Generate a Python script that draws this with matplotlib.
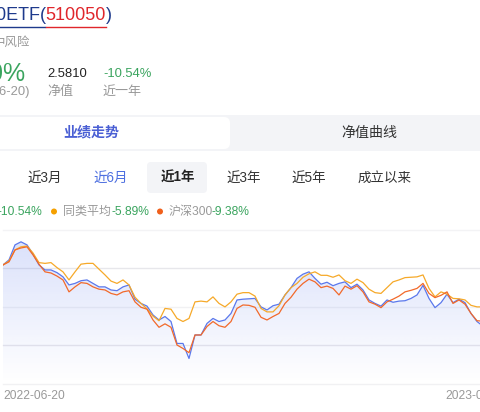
import numpy as np
import matplotlib
matplotlib.use('Agg')
import matplotlib.pyplot as plt
from matplotlib.patches import FancyBboxPatch, Rectangle, Circle
from matplotlib.lines import Line2D
from matplotlib.transforms import IdentityTransform, blended_transform_factory

plt.rcParams['font.family'] = ['Liberation Sans', 'Noto Sans CJK SC', 'DejaVu Sans']

# ---------------- data (cumulative return, %) ----------------
fund = [0.8, 2.1, 6.0, 6.8, 6.0, 3.6, 0.8, -0.5, -0.5, -1.2, -2.3, -4.4, -4.0, -3.3, -3.1,
        -4.0, -4.9, -4.9, -5.7, -5.9, -4.9, -4.4, -8.1, -9.2, -9.9, -12.2, -13.5, -12.6, -13.9,
        -19.6, -19.6, -23.5, -17.4, -17.4, -14.4, -13.1, -13.9, -13.5, -11.8, -8.3, -8.1, -8.0,
        -7.9, -10.1, -10.9, -9.8, -9.4, -7.0, -5.1, -2.7, -1.6, -1.0, -2.7, -4.2, -3.7, -4.6,
        -4.0, -3.6, -5.1, -4.2, -5.7, -8.3, -9.2, -9.9, -8.3, -8.9, -8.6, -8.5, -7.9, -7.0,
        -4.5, -7.9, -10.3, -9.0, -6.8, -9.0, -8.1, -9.0, -11.8, -13.9, -15.1, -14.0, -13.0,
        -11.4, -10.54]
peer_avg = [0.8, 1.8, 4.7, 5.5, 5.7, 3.9, 1.4, 1.2, 1.4, 0.1, -1.0, -3.1, -1.0, 1.0, 1.2,
            1.2, -0.3, -1.8, -3.4, -4.0, -3.1, -4.4, -7.6, -9.2, -10.6, -12.5, -13.7, -10.5,
            -10.7, -13.1, -13.9, -13.1, -8.8, -8.6, -8.8, -7.5, -9.2, -10.1, -8.8, -6.8, -6.4,
            -6.4, -7.3, -10.5, -11.4, -11.4, -9.8, -7.0, -5.1, -4.0, -2.4, -1.5, -1.0, -1.9,
            -1.9, -2.4, -1.8, -3.3, -4.0, -2.9, -3.8, -5.5, -6.4, -6.6, -5.1, -3.6, -3.1, -2.5,
            -2.4, -2.3, -1.8, -5.3, -7.5, -6.2, -6.8, -7.9, -8.0, -8.3, -9.7, -10.1, -10.1,
            -9.1, -8.1, -7.0, -5.89]
hs300 = [0.8, 1.6, 4.7, 5.2, 5.5, 3.4, 1.0, -1.0, -1.3, -2.1, -3.1, -6.2, -4.9, -3.8, -4.0,
         -4.9, -5.5, -5.7, -6.6, -7.0, -6.2, -5.9, -8.8, -10.2, -10.7, -13.5, -15.4, -14.5,
         -15.4, -20.0, -20.9, -22.0, -17.4, -17.4, -15.2, -13.9, -15.0, -15.4, -13.9, -10.5,
         -9.6, -9.7, -10.2, -12.8, -13.5, -12.6, -11.8, -9.2, -7.6, -5.5, -4.0, -2.9, -3.6,
         -5.1, -4.7, -5.3, -7.0, -4.7, -5.5, -4.6, -6.2, -8.8, -9.4, -10.3, -8.8, -8.1, -7.3,
         -6.2, -5.8, -5.3, -4.0, -6.6, -7.7, -7.1, -6.2, -9.2, -8.3, -9.4, -11.8, -13.7, -13.8,
         -12.7, -11.7, -10.4, -9.38]
grid_values = [10, 0, -10, -20, -30]
date_labels = ['2022-06-20', '2023-06-20']
periods = ['近3月', '近6月', '近1年', '近3年', '近5年', '成立以来']
tabs = ['业绩走势', '净值曲线']

BLUE = '#5b78ec'
YELLOW = '#f6a929'
RED = '#f2692a'
GREEN = '#3aa45e'
GRAY = '#999999'
NAVY = '#1e3a8c'

W, H = 480, 412
fig = plt.figure(figsize=(W / 100, H / 100), dpi=100)
fig.patch.set_facecolor('white')


def fx(x):
    return x / W


def fy(y):
    return 1 - y / H


def T(x, y, s, px, color, ha='left', va='center', weight='normal'):
    return fig.text(fx(x), fy(y), s, fontsize=px * 0.72, color=color, ha=ha, va=va,
                    fontweight=weight)


def rrect(x0, y0, x1, y1, color, r=5):
    p = FancyBboxPatch((x0, H - y1), x1 - x0, y1 - y0,
                       boxstyle=f'round,pad=0,rounding_size={r}',
                       transform=IdentityTransform(), facecolor=color, edgecolor='none')
    fig.add_artist(p)


def hline(x0, x1, y, color, lw=1.0):
    fig.add_artist(Line2D([fx(x0), fx(x1)], [fy(y), fy(y)], color=color, lw=lw,
                          transform=fig.transFigure))


# ---------------- header ----------------
T(40, 16, '50ETF', 18, NAVY, ha='right')
T(40, 16, '(', 18, NAVY)
T(45.5, 16, '510050', 18, '#e0262b')
T(106, 16, ')', 18, NAVY)
hline(-2, 45, 26.5, NAVY, 1.0)
hline(46, 106, 26.5, '#e0262b', 1.0)

T(30, 43, '中风险', 12.5, GRAY, ha='right')
T(25, 74, '0%', 25, GREEN, ha='right')
T(47, 74, '2.5810', 13, '#222222')
T(103, 74, '-10.54%', 13, GREEN)
T(30, 92, '(2023-06-20)', 13, GRAY, ha='right')
T(47, 92, '净值', 13, GRAY)
T(103, 92, '近一年', 13, GRAY)

# ---------------- tab bar ----------------
fig.add_artist(Rectangle((0, H - 151), W, 36, transform=IdentityTransform(),
                         facecolor='#f3f4f7', edgecolor='none'))
rrect(-10, 117, 230, 149, 'white', r=6)
T(91, 132.5, tabs[0], 14, '#4a5fd4', ha='center', weight='bold')
T(369, 132.5, tabs[1], 14, '#333333', ha='center')

# ---------------- period buttons ----------------
rrect(147, 162, 207, 193, '#f3f4f7', r=4)
pcenters = [45, 111, 177.5, 243.5, 309, 385]
for s, cx in zip(periods, pcenters):
    if s == '近1年':
        T(cx, 178, s, 13.5, '#222222', ha='center', weight='bold')
    elif s == '近6月':
        T(cx, 178, s, 13.5, '#4d6fe0', ha='center')
    else:
        T(cx, 178, s, 13.5, '#333333', ha='center')

# ---------------- legend row ----------------
T(42, 211.5, '-10.54%', 12, GREEN, ha='right')
fig.add_artist(Circle((54, H - 211.5), 3, transform=IdentityTransform(),
                      facecolor='#f5a000', edgecolor='none'))
T(63, 211.5, '同类平均', 12, GRAY)
T(111, 211.5, '-5.89%', 12, GREEN)
fig.add_artist(Circle((160, H - 211.5), 3, transform=IdentityTransform(),
                      facecolor='#f0601c', edgecolor='none'))
T(169, 211.5, '沪深300', 12, GRAY)
T(212, 211.5, '-9.38%', 12, GREEN)

# ---------------- chart ----------------
ax = fig.add_axes([3 / W, (H - 383.5) / H, 504 / W, 154 / H])
ax.set_facecolor('none')
x = np.arange(len(fund))

for v, c in zip(grid_values, ['#f3f3f5', '#e7e7eb', '#f1f1f3', '#e7e7eb', '#f1f1f3']):
    ax.axhline(v, color=c, lw=1.0, zorder=0, clip_on=False)

poly = ax.fill_between(x, fund, -30, facecolor='none', edgecolor='none')
path = poly.get_paths()[0]
top = max(fund)
ngrad = 256
rgba = np.zeros((ngrad, 1, 4))
base = matplotlib.colors.to_rgb(BLUE)
rgba[:, 0, 0:3] = base
rgba[:, 0, 3] = np.linspace(0.22, 0.0, ngrad)
im = ax.imshow(rgba, extent=[0, len(fund) - 1, -30, top], aspect='auto', origin='upper',
               zorder=1, interpolation='bilinear')
im.set_clip_path(path, transform=ax.transData)

ax.plot(x, fund, color=BLUE, lw=0.9, zorder=3)
ax.plot(x, peer_avg, color=YELLOW, lw=0.9, zorder=4)
ax.plot(x, hs300, color=RED, lw=0.9, zorder=5)

ax.set_xlim(0, len(fund) - 1)
ax.set_ylim(-30, 10)
for s in ax.spines.values():
    s.set_visible(False)
ax.set_xticks([])
ax.set_yticks([])

tr = blended_transform_factory(ax.transData, ax.transAxes)
ax.text(0, -0.078, date_labels[0], transform=tr, ha='left', va='center',
        fontsize=12 * 0.72, color=GRAY, clip_on=False)
ax.text(len(fund) - 1, -0.078, date_labels[1], transform=tr, ha='right', va='center',
        fontsize=12 * 0.72, color=GRAY, clip_on=False)

fig.savefig('out.png', dpi=100, facecolor='white')
